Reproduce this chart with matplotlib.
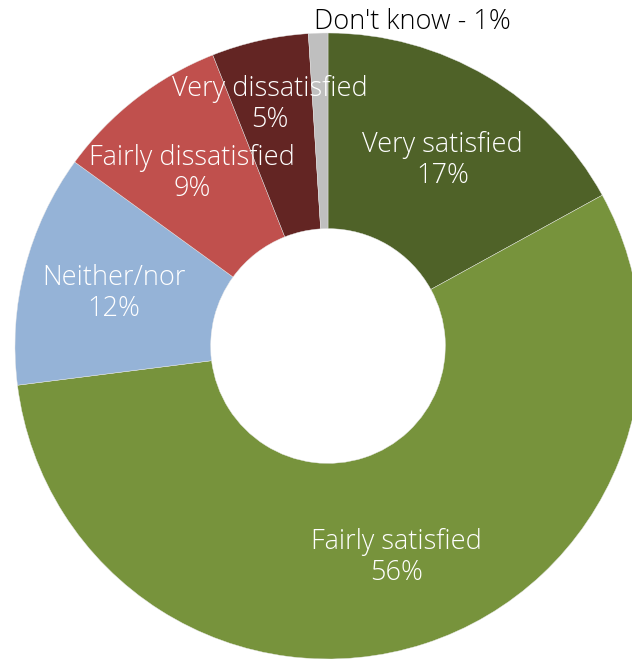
import matplotlib
matplotlib.use("Agg")
import matplotlib.pyplot as plt
import numpy as np

categories = ["Very satisfied", "Fairly satisfied", "Neither/nor",
              "Fairly dissatisfied", "Very dissatisfied", "Don't know"]
values = [17, 56, 12, 9, 5, 1]
colors = ["#4F6228", "#77933C", "#95B3D7", "#C0504D", "#632523", "#BFBFBF"]

plt.rcParams['font.family'] = ['Open Sans', 'DejaVu Sans']

fig = plt.figure(figsize=(6.32, 6.59), dpi=100)
ax = fig.add_axes([15/632, 0/659, 626/632, 626/659])
wedges, _ = ax.pie(values, colors=colors, startangle=90, counterclock=False,
                   radius=1.0, wedgeprops=dict(width=0.625, edgecolor='#e8e8e8', linewidth=0.3))
for w in wedges:
    w.set_clip_on(False)
ax.set_xlim(-1, 1)
ax.set_ylim(-1, 1)
ax.set_aspect('equal')
ax.axis('off')

label_r = [0.72, 0.71, 0.705, 0.73, 0.81, None]
label_off = [(0.0, -0.027), (0.0, 0.0), (0.0, -0.007), (0.014, -0.027), (-0.01, -0.02), (0, 0)]
total = sum(values)
cum = 0
for i, (cat, v) in enumerate(zip(categories, values)):
    mid = cum + v / 2
    cum += v
    ang = np.deg2rad(90 - 360 * mid / total)
    if label_r[i] is None:
        ax.text(np.cos(ang) * 1.0 + 0.30, 1.035, f"{cat} - {v}%", ha='center', va='center',
                fontsize=19.5, fontweight='light', color='black')
    else:
        r = label_r[i]
        dx, dy = label_off[i]
        ax.text(np.cos(ang) * r + dx, np.sin(ang) * r + dy, f"{cat}\n{v}%", ha='center', va='center',
                fontsize=19.5, fontweight='light', color='white', linespacing=1.15)

fig.savefig("out.png", dpi=100)
